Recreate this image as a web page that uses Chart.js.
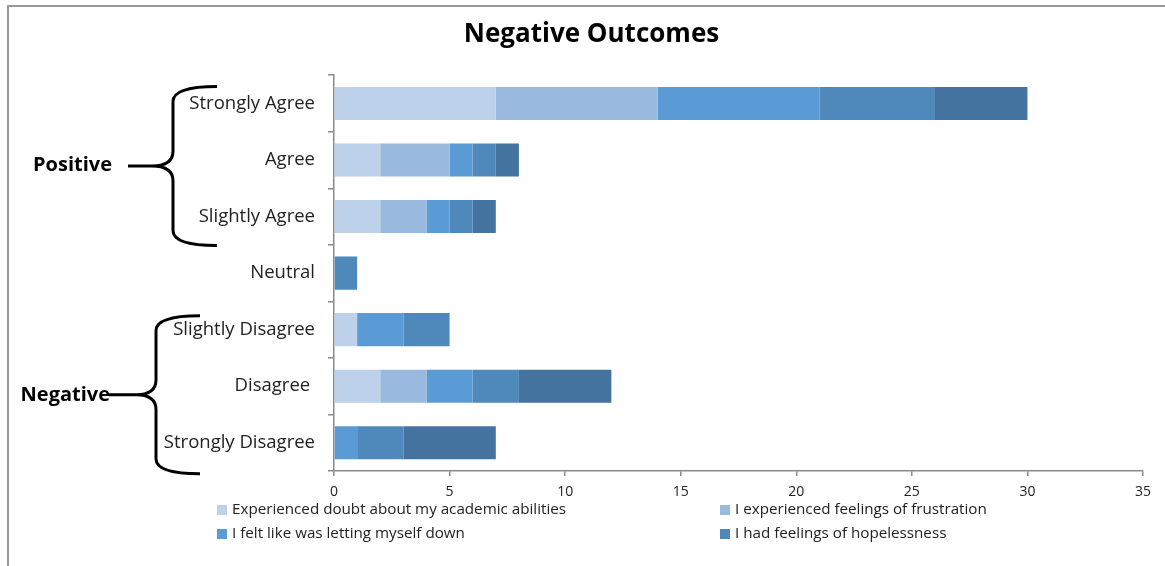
<!DOCTYPE html>
<html>
<head>
<meta charset="utf-8">
<script src="https://cdn.jsdelivr.net/npm/chart.js@4/dist/chart.umd.min.js"></script>
<style>
  html, body { margin: 0; padding: 0; background: #fff; }
  #wrap { position: relative; width: 1165px; height: 566px; }
</style>
</head>
<body>
<div id="wrap"><canvas id="outcomes"></canvas></div>
<script>
var categories = ['Strongly Agree', 'Agree', 'Slightly Agree', 'Neutral', 'Slightly Disagree', 'Disagree ', 'Strongly Disagree'];
var seriesNames = [
  'Experienced doubt about my academic abilities',
  'I experienced feelings of frustration',
  'I felt like was letting myself down',
  'I had feelings of hopelessness',
  ''
];
var doubt        = [7, 2, 2, 0, 1, 2, 0];
var frustration  = [7, 3, 2, 0, 0, 2, 0];
var lettingDown  = [7, 1, 1, 0, 2, 2, 1];
var hopelessness = [5, 1, 1, 1, 2, 2, 2];
var fifthSeries  = [4, 1, 1, 0, 0, 4, 4];
var xMin = 0, xMax = 35, xStep = 5;

var colors = ['#bdd2ea', '#99b9df', '#5b9bd5', '#4f89bc', '#44739f'];
var allValues = [doubt, frustration, lettingDown, hopelessness, fifthSeries];

var datasets = allValues.map(function (vals, i) {
  return {
    label: seriesNames[i],
    data: vals,
    backgroundColor: colors[i],
    borderWidth: 0,
    categoryPercentage: 1,
    barPercentage: 0.585
  };
});

var FONT = '"Open Sans", "DejaVu Sans", sans-serif';
var axisColor = '#8a8a8a';

// curly bracket: tips on the right, spine, cusp pointing left
function bracket(ctx, tipX, spineX, cuspX, lineX, top, bottom) {
  var mid = (top + bottom) / 2;
  var r = 15;
  ctx.beginPath();
  ctx.moveTo(tipX, top);
  ctx.quadraticCurveTo(spineX, top, spineX, top + r);
  ctx.lineTo(spineX, mid - r);
  ctx.quadraticCurveTo(spineX, mid, cuspX, mid);
  ctx.quadraticCurveTo(spineX, mid, spineX, mid + r);
  ctx.lineTo(spineX, bottom - r);
  ctx.quadraticCurveTo(spineX, bottom, tipX, bottom);
  ctx.moveTo(cuspX, mid);
  ctx.lineTo(lineX, mid);
  ctx.stroke();
}

var extras = {
  id: 'extras',
  afterDraw: function (chart) {
    var ctx = chart.ctx;
    var y = chart.scales.y;
    ctx.save();

    // frame
    ctx.fillStyle = '#999';
    ctx.fillRect(7, 5, 2, 561);
    ctx.fillRect(7, 5, 1158, 2);

    // brackets
    ctx.strokeStyle = '#000';
    ctx.lineWidth = 3;
    ctx.lineCap = 'butt';
    var pTop = y.getPixelForValue(0) - 17, pBot = y.getPixelForValue(2) + 29;
    var nTop = y.getPixelForValue(4) - 14, nBot = y.getPixelForValue(6) + 31;
    bracket(ctx, 217, 173, 152, 128, pTop, pBot);
    bracket(ctx, 200, 156, 136, 109, nTop, nBot);

    ctx.fillStyle = '#000';
    ctx.font = 'bold 20px ' + FONT;
    ctx.textAlign = 'right';
    ctx.textBaseline = 'middle';
    ctx.fillText('Positive', 112, (pTop + pBot) / 2 - 1);
    ctx.fillText('Negative', 110, (nTop + nBot) / 2 + 1);

    // legend (two columns)
    var colX = [217, 720];
    var rowY = [510, 534];
    ctx.font = '15.2px ' + FONT;
    ctx.textAlign = 'left';
    for (var i = 0; i < 4; i++) {
      var cx = colX[i % 2], cy = rowY[Math.floor(i / 2)];
      ctx.fillStyle = colors[i];
      ctx.fillRect(cx, cy - 5, 10, 10);
      ctx.fillStyle = '#222';
      ctx.fillText(seriesNames[i], cx + 15, cy);
    }
    ctx.restore();
  }
};

new Chart(document.getElementById('outcomes'), {
  type: 'bar',
  data: { labels: categories, datasets: datasets },
  options: {
    indexAxis: 'y',
    responsive: true,
    maintainAspectRatio: false,
    animation: false,
    layout: { padding: { left: 40, right: 22, top: 0, bottom: 0 } },
    plugins: {
      legend: { display: false },
      tooltip: { enabled: false },
      title: {
        display: true,
        text: 'Negative Outcomes',
        color: '#000',
        font: { family: FONT, size: 26, weight: 'bold' },
        padding: { top: 19, bottom: 25 }
      }
    },
    scales: {
      x: {
        stacked: true,
        min: xMin,
        max: xMax,
        ticks: { stepSize: xStep, color: '#222', font: { family: FONT, size: 14 }, padding: 8 },
        grid: { drawOnChartArea: false, drawTicks: true, tickLength: 5, color: axisColor, lineWidth: 1.5 },
        border: { color: axisColor, width: 1.5 },
        afterFit: function (scale) { scale.height = 95; }
      },
      y: {
        stacked: true,
        ticks: { color: '#222', font: { family: FONT, size: 18.5 }, padding: 13 },
        grid: { drawOnChartArea: false, drawTicks: true, tickLength: 6, color: axisColor, lineWidth: 1.5 },
        border: { color: axisColor, width: 1.5 },
        afterFit: function (scale) { scale.width = 294; }
      }
    }
  },
  plugins: [extras]
});
</script>
</body>
</html>
